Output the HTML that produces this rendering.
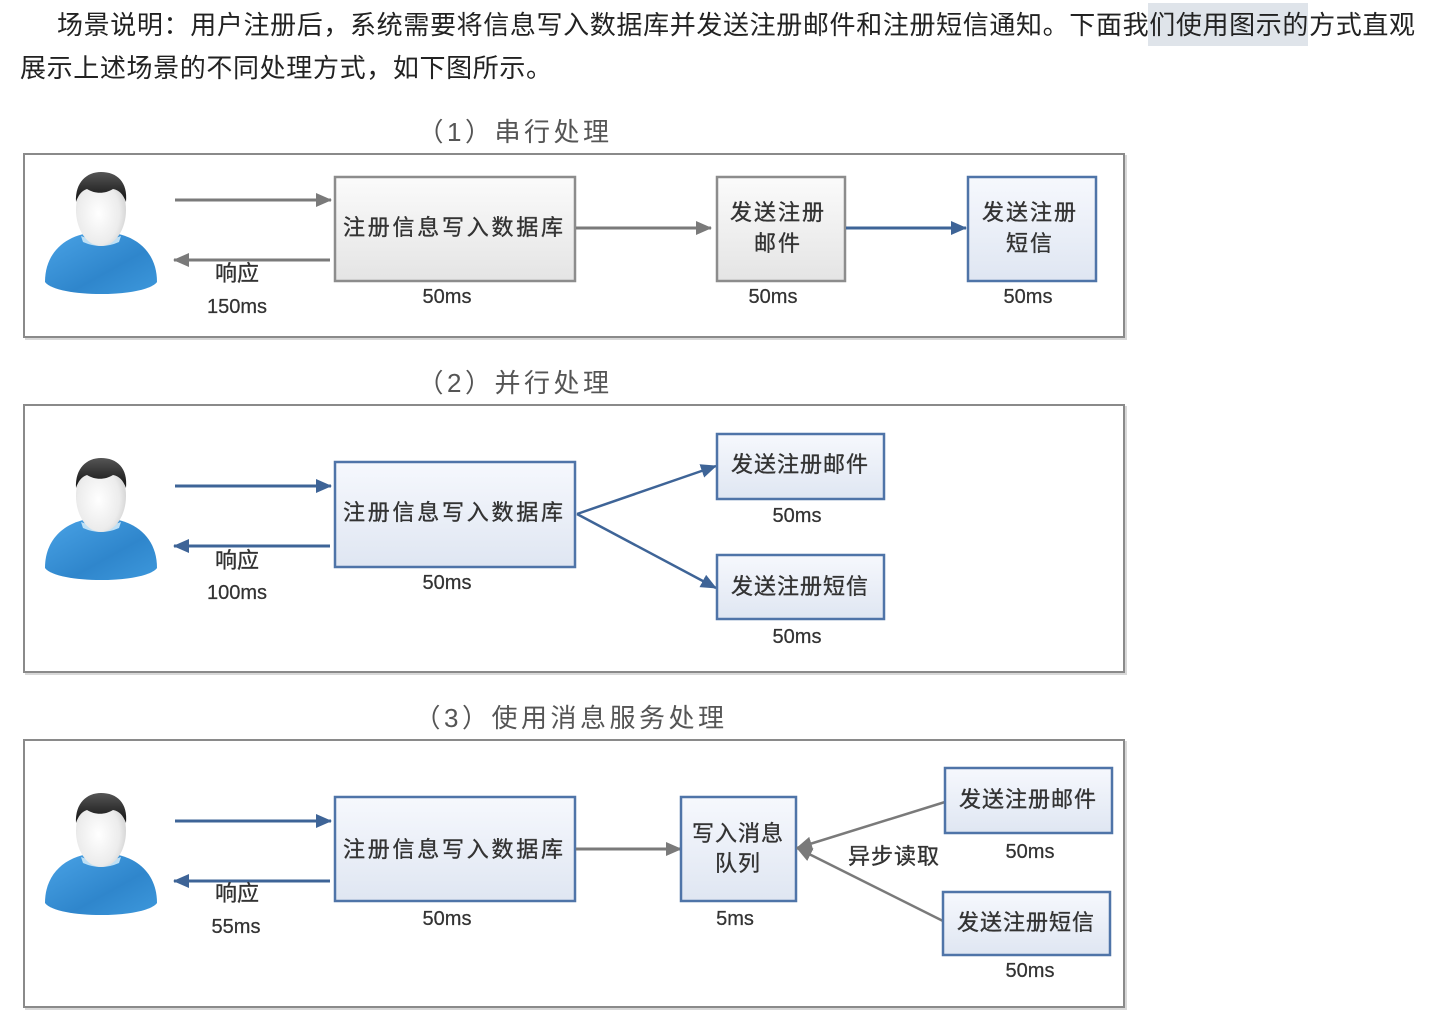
<!DOCTYPE html>
<html><head><meta charset="utf-8">
<style>
html,body{margin:0;padding:0;background:#fff;}
svg{display:block;}
.cj{font-family:"Liberation Sans","Noto Sans CJK SC",sans-serif;}
.bx{font-family:"Liberation Sans","Noto Sans CJK SC",sans-serif;font-size:22px;fill:#333;stroke:#333;stroke-width:0.35px;}
.ms{font-family:"Liberation Sans","Noto Sans CJK SC",sans-serif;font-size:20px;fill:#333;stroke:#333;stroke-width:0.25px;}
.tt{font-family:"Liberation Sans","Noto Sans CJK SC",sans-serif;font-size:26px;fill:#555;letter-spacing:3.5px;}
</style></head>
<body>
<svg width="1431" height="1012" viewBox="0 0 1431 1012" xmlns="http://www.w3.org/2000/svg">
<defs>
  <linearGradient id="gG" x1="0" y1="0" x2="0" y2="1"><stop offset="0" stop-color="#fbfbfb"/><stop offset="1" stop-color="#e4e4e4"/></linearGradient>
  <linearGradient id="gB" x1="0" y1="0" x2="0" y2="1"><stop offset="0" stop-color="#f6f8fd"/><stop offset="1" stop-color="#dfe6f2"/></linearGradient>
  <linearGradient id="body" x1="0" y1="0" x2="1" y2="1"><stop offset="0" stop-color="#4aa3e6"/><stop offset="0.6" stop-color="#2f86cc"/><stop offset="1" stop-color="#3d98dc"/></linearGradient>
  <radialGradient id="head" cx="0.45" cy="0.55" r="0.6"><stop offset="0" stop-color="#ffffff"/><stop offset="0.7" stop-color="#ececec"/><stop offset="1" stop-color="#cfcfcf"/></radialGradient>
  <linearGradient id="hair" x1="0" y1="0" x2="0" y2="1"><stop offset="0" stop-color="#555"/><stop offset="1" stop-color="#111"/></linearGradient>
  <marker id="ag" markerWidth="16" markerHeight="14" refX="15" refY="7" orient="auto" markerUnits="userSpaceOnUse"><path d="M0,0 L16,7 L0,14 Z" fill="#7a7a7a"/></marker>
  <marker id="ab" markerWidth="16" markerHeight="14" refX="15" refY="7" orient="auto" markerUnits="userSpaceOnUse"><path d="M0,0 L16,7 L0,14 Z" fill="#3e6497"/></marker>
  <g id="person">
    <path d="M0,110 C0,78 24,60 56,60 C88,60 112,78 112,110 C100,126 12,126 0,110 Z" fill="url(#body)"/>
    <path d="M36,64 Q56,72 76,64 L74,70 Q56,78 38,70 Z" fill="#bfe0f5"/>
    <rect x="42" y="52" width="28" height="18" rx="6" fill="#dcdcdc"/>
    <ellipse cx="56" cy="38" rx="25" ry="36" fill="url(#head)"/>
    <path d="M31,30 C30,10 42,0 56,0 C72,0 83,10 81,30 C78,22 74,18 68,17 C60,22 50,22 42,17 C36,19 33,24 31,30 Z" fill="url(#hair)"/>
  </g>
</defs>

<!-- top paragraph -->
<rect x="1148" y="3" width="160" height="43" fill="#dfe4ea"/>
<text class="cj" x="57" y="34" font-size="26" fill="#222" textLength="1358" lengthAdjust="spacing">场景说明：用户注册后，系统需要将信息写入数据库并发送注册邮件和注册短信通知。下面我们使用图示的方式直观</text>
<text class="cj" x="20" y="77" font-size="26" fill="#222" textLength="532" lengthAdjust="spacing">展示上述场景的不同处理方式，如下图所示。</text>

<!-- ===== Panel 1 ===== -->
<text class="tt" x="515" y="141" text-anchor="middle">（1）串行处理</text>
<rect x="26" y="156" width="1100" height="183" fill="none" stroke="#d8d8d8" stroke-width="2"/>
<rect x="24" y="154" width="1100" height="183" fill="#fff" stroke="#8a8a8a" stroke-width="2"/>
<use href="#person" x="45" y="172"/>
<line x1="175" y1="200" x2="331" y2="200" stroke="#7a7a7a" stroke-width="3" marker-end="url(#ag)"/>
<line x1="330" y1="260" x2="174" y2="260" stroke="#7a7a7a" stroke-width="3" marker-end="url(#ag)"/>
<text class="bx" x="237" y="281" text-anchor="middle" font-size="20">响应</text>
<text class="ms" x="237" y="313" text-anchor="middle">150ms</text>
<rect x="335" y="177" width="240" height="104" fill="url(#gG)" stroke="#8c8c8c" stroke-width="2.5"/>
<text class="bx" x="343" y="235" textLength="220" lengthAdjust="spacing">注册信息写入数据库</text>
<text class="ms" x="447" y="303" text-anchor="middle">50ms</text>
<line x1="576" y1="228" x2="711" y2="228" stroke="#7a7a7a" stroke-width="3" marker-end="url(#ag)"/>
<rect x="717" y="177" width="128" height="104" fill="url(#gG)" stroke="#8c8c8c" stroke-width="2.5"/>
<text class="bx" x="778" y="220" text-anchor="middle" letter-spacing="2">发送注册</text>
<text class="bx" x="778" y="251" text-anchor="middle" letter-spacing="2">邮件</text>
<text class="ms" x="773" y="303" text-anchor="middle">50ms</text>
<line x1="846" y1="228" x2="966" y2="228" stroke="#3e6497" stroke-width="3" marker-end="url(#ab)"/>
<rect x="968" y="177" width="128" height="104" fill="url(#gB)" stroke="#4f74a8" stroke-width="2.5"/>
<text class="bx" x="1030" y="220" text-anchor="middle" letter-spacing="2">发送注册</text>
<text class="bx" x="1030" y="251" text-anchor="middle" letter-spacing="2">短信</text>
<text class="ms" x="1028" y="303" text-anchor="middle">50ms</text>

<!-- ===== Panel 2 ===== -->
<text class="tt" x="515" y="392" text-anchor="middle">（2）并行处理</text>
<rect x="26" y="407" width="1100" height="267" fill="none" stroke="#d8d8d8" stroke-width="2"/>
<rect x="24" y="405" width="1100" height="267" fill="#fff" stroke="#8a8a8a" stroke-width="2"/>
<use href="#person" x="45" y="458"/>
<line x1="175" y1="486" x2="331" y2="486" stroke="#3e6497" stroke-width="3" marker-end="url(#ab)"/>
<line x1="330" y1="546" x2="174" y2="546" stroke="#3e6497" stroke-width="3" marker-end="url(#ab)"/>
<text class="bx" x="237" y="568" text-anchor="middle" font-size="20">响应</text>
<text class="ms" x="237" y="599" text-anchor="middle">100ms</text>
<rect x="335" y="462" width="240" height="105" fill="url(#gB)" stroke="#4f74a8" stroke-width="2.5"/>
<text class="bx" x="343" y="520" textLength="220" lengthAdjust="spacing">注册信息写入数据库</text>
<text class="ms" x="447" y="589" text-anchor="middle">50ms</text>
<line x1="577" y1="514" x2="716" y2="466" stroke="#3e6497" stroke-width="2.5" marker-end="url(#ab)"/>
<line x1="577" y1="514" x2="716" y2="588" stroke="#3e6497" stroke-width="2.5" marker-end="url(#ab)"/>
<rect x="717" y="434" width="167" height="65" fill="url(#gB)" stroke="#4f74a8" stroke-width="2.5"/>
<text class="bx" x="800" y="472" text-anchor="middle" letter-spacing="1">发送注册邮件</text>
<text class="ms" x="797" y="522" text-anchor="middle">50ms</text>
<rect x="717" y="555" width="167" height="64" fill="url(#gB)" stroke="#4f74a8" stroke-width="2.5"/>
<text class="bx" x="800" y="594" text-anchor="middle" letter-spacing="1">发送注册短信</text>
<text class="ms" x="797" y="643" text-anchor="middle">50ms</text>

<!-- ===== Panel 3 ===== -->
<text class="tt" x="571" y="727" text-anchor="middle">（3）使用消息服务处理</text>
<rect x="26" y="742" width="1100" height="267" fill="none" stroke="#d8d8d8" stroke-width="2"/>
<rect x="24" y="740" width="1100" height="267" fill="#fff" stroke="#8a8a8a" stroke-width="2"/>
<use href="#person" x="45" y="793"/>
<line x1="175" y1="821" x2="331" y2="821" stroke="#3e6497" stroke-width="3" marker-end="url(#ab)"/>
<line x1="330" y1="881" x2="174" y2="881" stroke="#3e6497" stroke-width="3" marker-end="url(#ab)"/>
<text class="bx" x="237" y="901" text-anchor="middle" font-size="20">响应</text>
<text class="ms" x="236" y="933" text-anchor="middle">55ms</text>
<rect x="335" y="797" width="240" height="104" fill="url(#gB)" stroke="#4f74a8" stroke-width="2.5"/>
<text class="bx" x="343" y="857" textLength="220" lengthAdjust="spacing">注册信息写入数据库</text>
<text class="ms" x="447" y="925" text-anchor="middle">50ms</text>
<line x1="576" y1="849" x2="681" y2="849" stroke="#7a7a7a" stroke-width="3" marker-end="url(#ag)"/>
<rect x="681" y="797" width="115" height="104" fill="url(#gB)" stroke="#4f74a8" stroke-width="2.5"/>
<text class="bx" x="738" y="841" text-anchor="middle" letter-spacing="1">写入消息</text>
<text class="bx" x="738" y="871" text-anchor="middle" letter-spacing="1">队列</text>
<text class="ms" x="735" y="925" text-anchor="middle">5ms</text>
<line x1="945" y1="802" x2="797" y2="848" stroke="#7a7a7a" stroke-width="2.5" marker-end="url(#ag)"/>
<line x1="943" y1="921" x2="797" y2="848" stroke="#7a7a7a" stroke-width="2.5" marker-end="url(#ag)"/>
<text class="bx" x="848" y="864" letter-spacing="1">异步读取</text>
<rect x="945" y="768" width="167" height="65" fill="url(#gB)" stroke="#4f74a8" stroke-width="2.5"/>
<text class="bx" x="1028" y="807" text-anchor="middle" letter-spacing="1">发送注册邮件</text>
<text class="ms" x="1030" y="858" text-anchor="middle">50ms</text>
<rect x="943" y="892" width="167" height="63" fill="url(#gB)" stroke="#4f74a8" stroke-width="2.5"/>
<text class="bx" x="1026" y="930" text-anchor="middle" letter-spacing="1">发送注册短信</text>
<text class="ms" x="1030" y="977" text-anchor="middle">50ms</text>
</svg>
</body></html>
